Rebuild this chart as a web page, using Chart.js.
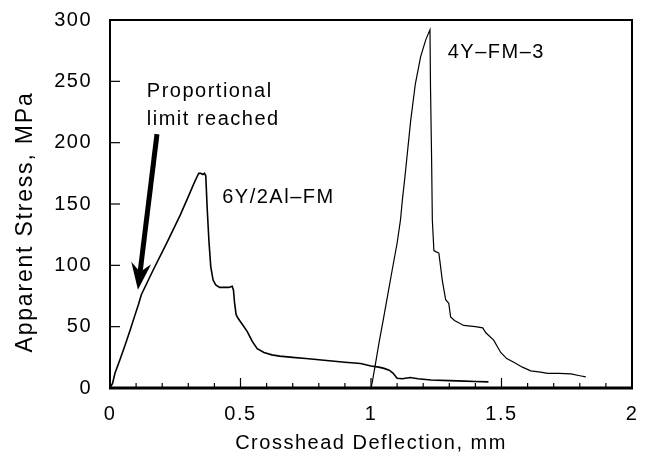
<!DOCTYPE html>
<html><head><meta charset="utf-8">
<script src="https://cdn.jsdelivr.net/npm/chart.js@4/dist/chart.umd.min.js"></script>
<style>html,body{margin:0;padding:0;background:#fff;}canvas{display:block;}</style>
</head><body>
<canvas id="c" width="649" height="464"></canvas>
<script>
// ---- data ----
const xTitle = 'Crosshead Deflection, mm';
const yTitle = 'Apparent Stress, MPa';
const seriesNames = ['6Y/2Al\u2013FM', '4Y\u2013FM\u20133'];
const noteLines = ['Proportional', 'limit reached'];

const fm6X = [0, 0.01, 0.019, 0.038, 0.058, 0.077, 0.095, 0.109, 0.12, 0.165, 0.219, 0.269, 0.30, 0.32, 0.333, 0.34, 0.348, 0.356, 0.362, 0.367, 0.372, 0.379, 0.386, 0.395, 0.405, 0.42, 0.44, 0.455, 0.468, 0.473, 0.477, 0.483, 0.49, 0.51, 0.526, 0.545, 0.564, 0.59, 0.62, 0.65, 0.70, 0.75, 0.80, 0.85, 0.90, 0.96, 1.00, 1.03, 1.05, 1.07, 1.085, 1.10, 1.12, 1.15, 1.18, 1.23, 1.30, 1.36, 1.40, 1.45];
const fm6Y = [0, 4, 12, 23, 35, 47, 59, 68, 76, 96, 119, 141, 156, 166, 172, 175, 175, 174, 175, 173, 148, 120, 99, 88, 84, 82, 82, 82, 83, 80, 70, 60, 57, 51, 46, 38, 32, 29, 27, 26, 25, 24, 23, 22, 21, 20, 18, 17, 16, 14.5, 12, 8, 7.5, 8.5, 7.5, 6.5, 6, 5.6, 5.3, 5];

const fm4X = [1.0, 1.005, 1.015, 1.03, 1.049, 1.065, 1.081, 1.10, 1.113, 1.12, 1.13, 1.152, 1.17, 1.19, 1.21, 1.226, 1.228, 1.232, 1.235, 1.241, 1.25, 1.26, 1.266, 1.273, 1.286, 1.298, 1.305, 1.32, 1.355, 1.40, 1.428, 1.44, 1.47, 1.497, 1.52, 1.547, 1.58, 1.612, 1.65, 1.677, 1.72, 1.766, 1.80, 1.823];
const fm4Y = [0, 5, 17, 36, 58, 77, 96, 118, 137, 153, 172, 218, 248, 270, 284, 292, 245, 190, 137, 112, 111, 110, 100, 88, 72, 69, 58, 55, 51, 50, 49, 45, 39, 29, 24, 21, 17, 14, 13, 12, 12, 11.5, 10, 9];

const xRange = [0, 2];
const yRange = [0, 300];
const xMajorStep = 0.5;
const xMinorStep = 0.1;
const yStep = 50;

// ---- build ----
const FONT = '"Liberation Sans", Arial, Helvetica, sans-serif';
const LS = '1.5px';
const toPts = (xs, ys) => xs.map((x, i) => ({x, y: ys[i]}));
const fmtNum = v => String(+Number(v).toFixed(3));

const framePlugin = {
  id: 'frame',
  beforeUpdate(chart) { chart.ctx.letterSpacing = LS; },
  beforeDraw(chart) { chart.ctx.letterSpacing = LS; },
  afterDraw(chart, args, opts) {
    const {ctx, chartArea: a, scales: {x, y}} = chart;
    ctx.save();
    ctx.strokeStyle = '#000';
    ctx.lineCap = 'butt';
    const seg = (x1, y1, x2, y2, w) => { ctx.lineWidth = w; ctx.beginPath(); ctx.moveTo(x1, y1); ctx.lineTo(x2, y2); ctx.stroke(); };
    for (let v = yRange[0]; v <= yRange[1]; v += yStep) {
      const py = y.getPixelForValue(v);
      seg(a.left, py, a.left + 10, py, 1.2);
    }
    const n = Math.round((xRange[1] - xRange[0]) / xMinorStep);
    for (let i = 0; i <= n; i++) {
      const v = xRange[0] + i * xMinorStep;
      const px = x.getPixelForValue(v);
      const major = Math.abs(v / xMajorStep - Math.round(v / xMajorStep)) < 1e-6;
      seg(px, a.bottom, px, a.bottom - (major ? 10 : 5), 1.2);
    }
    seg(a.left - 1, a.top, a.right + 1, a.top, 2);
    seg(a.right, a.top, a.right, a.bottom, 2);
    seg(a.left, a.top, a.left, a.bottom, 2);
    seg(a.left - 1, a.bottom, a.right + 1, a.bottom, 3);
    // y-axis title (rotated)
    ctx.letterSpacing = '1.8px';
    ctx.fillStyle = '#000';
    ctx.font = '23px ' + FONT;
    ctx.textAlign = 'center';
    ctx.textBaseline = 'middle';
    ctx.translate(opts.yTitleX, opts.yTitleY);
    ctx.rotate(-Math.PI / 2);
    ctx.fillText(yTitle, 0, 0);
    ctx.restore();
  }
};

const notePlugin = {
  id: 'notes',
  afterDatasetsDraw(chart, args, opts) {
    const {ctx, scales: {x, y}} = chart;
    ctx.save();
    ctx.letterSpacing = LS;
    ctx.fillStyle = '#000';
    ctx.font = '20px ' + FONT;
    ctx.textAlign = 'left';
    ctx.textBaseline = 'alphabetic';
    opts.labels.forEach(l => {
      ctx.fillText(l.text, x.getPixelForValue(l.x), y.getPixelForValue(l.y));
    });
    const ar = opts.arrow;
    const x1 = x.getPixelForValue(ar.from[0]), y1 = y.getPixelForValue(ar.from[1]);
    const x2 = x.getPixelForValue(ar.to[0]), y2 = y.getPixelForValue(ar.to[1]);
    const dx = x2 - x1, dy = y2 - y1, L = Math.hypot(dx, dy);
    const ux = dx / L, uy = dy / L, nx = -uy, ny = ux;
    const headLen = 27, headHalf = 10, notch = 18;
    const bx = x2 - ux * headLen, by = y2 - uy * headLen;
    const mx = x2 - ux * notch, my = y2 - uy * notch;
    ctx.strokeStyle = '#000';
    ctx.lineWidth = 5;
    ctx.beginPath(); ctx.moveTo(x1, y1); ctx.lineTo(mx, my); ctx.stroke();
    ctx.beginPath();
    ctx.moveTo(x2, y2);
    ctx.lineTo(bx + nx * headHalf, by + ny * headHalf);
    ctx.lineTo(mx, my);
    ctx.lineTo(bx - nx * headHalf, by - ny * headHalf);
    ctx.closePath();
    ctx.fill();
    ctx.restore();
  }
};

new Chart(document.getElementById('c'), {
  type: 'line',
  data: {
    datasets: [
      {label: seriesNames[0], data: toPts(fm6X, fm6Y), borderColor: '#000', borderWidth: 1.6, pointRadius: 0, tension: 0, fill: false},
      {label: seriesNames[1], data: toPts(fm4X, fm4Y), borderColor: '#000', borderWidth: 1.2, pointRadius: 0, tension: 0, fill: false}
    ]
  },
  options: {
    responsive: false,
    animation: false,
    devicePixelRatio: 1,
    layout: {padding: {left: 0, top: 20, right: 17, bottom: 0}},
    plugins: {
      legend: {display: false},
      tooltip: {enabled: false},
      frame: {yTitleX: 26, yTitleY: 222},
      notes: {
        labels: [
          {text: noteLines[0], x: 0.141, y: 237},
          {text: noteLines[1], x: 0.141, y: 214},
          {text: seriesNames[0], x: 0.43, y: 151},
          {text: seriesNames[1], x: 1.294, y: 269}
        ],
        arrow: {from: [0.18, 207], to: [0.107, 80]}
      }
    },
    scales: {
      x: {
        type: 'linear', min: xRange[0], max: xRange[1],
        grid: {display: false, drawTicks: false},
        border: {display: false},
        ticks: {stepSize: xMajorStep, color: '#000', font: {family: FONT, size: 20}, padding: 14, maxRotation: 0, callback: fmtNum},
        title: {display: true, text: xTitle, color: '#000', font: {family: FONT, size: 20}, padding: {top: 0, bottom: 9}},
        afterFit(s) { s.height = 76; s.paddingLeft = 0; s.paddingRight = 0; }
      },
      y: {
        type: 'linear', min: yRange[0], max: yRange[1],
        grid: {display: false, drawTicks: false},
        border: {display: false},
        ticks: {stepSize: yStep, color: '#000', font: {family: FONT, size: 20}, padding: 18, callback: fmtNum},
        title: {display: false, text: yTitle},
        afterFit(s) { s.width = 110; s.paddingTop = 0; s.paddingBottom = 0; }
      }
    }
  },
  plugins: [framePlugin, notePlugin]
});
</script>
</body></html>
